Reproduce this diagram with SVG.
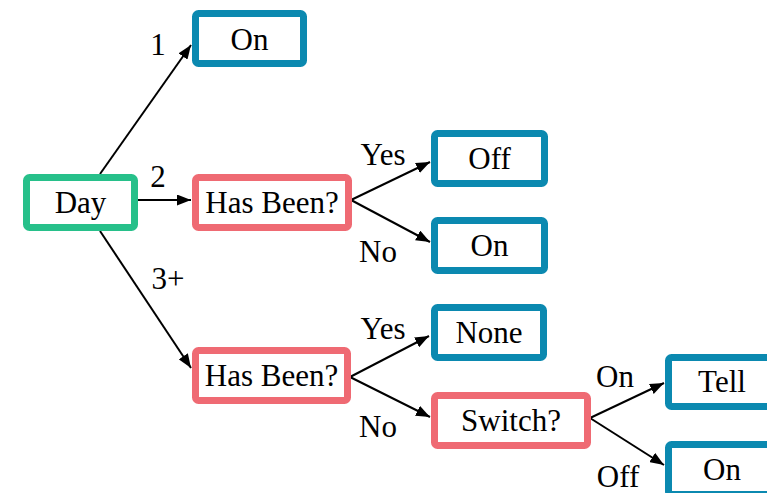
<svg xmlns="http://www.w3.org/2000/svg" width="767" height="493" viewBox="0 0 767 493">
  <style>
    .box { fill: #ffffff; stroke-width: 7; }
    .leaf { stroke: #0b89b0; }
    .root { stroke: #27c08a; }
    .ask { stroke: #ef6a73; }
    .edge { stroke: #000000; stroke-width: 2; fill: none; marker-end: url(#arrow); }
  </style>
  <defs>
    <marker id="arrow" markerUnits="userSpaceOnUse" markerWidth="14" markerHeight="11" refX="14" refY="5.5" orient="auto">
      <path d="M0,0 L14,5.5 L0,11 z" fill="#000000"/>
    </marker>
  </defs>

  <rect width="767" height="493" fill="#ffffff"/>

  <!-- connectors and their labels -->
  <g id="connectors">
    <line class="edge" x1="100" y1="174" x2="191" y2="45"/>
    <line class="edge" x1="138" y1="200" x2="191" y2="200"/>
    <line class="edge" x1="100" y1="231" x2="191" y2="368"/>
    <line class="edge" x1="351" y1="200" x2="430" y2="162"/>
    <line class="edge" x1="351" y1="200" x2="430" y2="242"/>
    <line class="edge" x1="350" y1="377" x2="429" y2="336"/>
    <line class="edge" x1="350" y1="377" x2="430" y2="417"/>
    <line class="edge" x1="590" y1="418" x2="664" y2="383"/>
    <line class="edge" x1="590" y1="418" x2="664" y2="465"/>
    <text x="158" y="55" font-family="Liberation Serif" font-size="31" text-anchor="middle">1</text>
    <text x="158" y="187" font-family="Liberation Serif" font-size="31" text-anchor="middle">2</text>
    <text x="168" y="289" font-family="Liberation Serif" font-size="31" text-anchor="middle">3+</text>
    <text x="383" y="165" font-family="Liberation Serif" font-size="31" text-anchor="middle">Yes</text>
    <text x="378" y="262" font-family="Liberation Serif" font-size="31" text-anchor="middle">No</text>
    <text x="383" y="339" font-family="Liberation Serif" font-size="31" text-anchor="middle">Yes</text>
    <text x="378" y="437" font-family="Liberation Serif" font-size="31" text-anchor="middle">No</text>
    <text x="615" y="387" font-family="Liberation Serif" font-size="31" text-anchor="middle">On</text>
    <text x="618" y="487" font-family="Liberation Serif" font-size="31" text-anchor="middle">Off</text>
  </g>

  <g id="day">
    <rect class="box root" x="26.5" y="177.5" width="108" height="50" rx="3"/>
    <text x="80.5" y="213" font-family="Liberation Serif" font-size="31" text-anchor="middle">Day</text>
  </g>
  <g id="on-first">
    <rect class="box leaf" x="195.5" y="13.5" width="108" height="50" rx="3"/>
    <text x="249.5" y="50" font-family="Liberation Serif" font-size="31" text-anchor="middle">On</text>
  </g>
  <g id="has-been-2">
    <rect class="box ask" x="195.5" y="177.5" width="153" height="50" rx="3"/>
    <text x="272" y="213" font-family="Liberation Serif" font-size="31" text-anchor="middle">Has Been?</text>
  </g>
  <g id="off">
    <rect class="box leaf" x="434.5" y="133.5" width="110" height="50" rx="3"/>
    <text x="489.5" y="169" font-family="Liberation Serif" font-size="31" text-anchor="middle">Off</text>
  </g>
  <g id="on-second">
    <rect class="box leaf" x="434.5" y="220.5" width="110" height="50" rx="3"/>
    <text x="489.5" y="256" font-family="Liberation Serif" font-size="31" text-anchor="middle">On</text>
  </g>
  <g id="has-been-3">
    <rect class="box ask" x="195.5" y="350.5" width="152" height="50" rx="3"/>
    <text x="271.5" y="386" font-family="Liberation Serif" font-size="31" text-anchor="middle">Has Been?</text>
  </g>
  <g id="none">
    <rect class="box leaf" x="434.5" y="307.5" width="109" height="50" rx="3"/>
    <text x="489" y="343" font-family="Liberation Serif" font-size="31" text-anchor="middle">None</text>
  </g>
  <g id="switch">
    <rect class="box ask" x="434.5" y="395.5" width="153" height="50" rx="3"/>
    <text x="511" y="431" font-family="Liberation Serif" font-size="31" text-anchor="middle">Switch?</text>
  </g>
  <g id="tell">
    <rect class="box leaf" x="668.5" y="357.5" width="109" height="49" rx="3"/>
    <text x="722" y="392" font-family="Liberation Serif" font-size="31" text-anchor="middle">Tell</text>
  </g>
  <g id="on-third">
    <rect class="box leaf" x="668.5" y="444.5" width="109" height="50" rx="3"/>
    <text x="722" y="480" font-family="Liberation Serif" font-size="31" text-anchor="middle">On</text>
  </g>
</svg>
